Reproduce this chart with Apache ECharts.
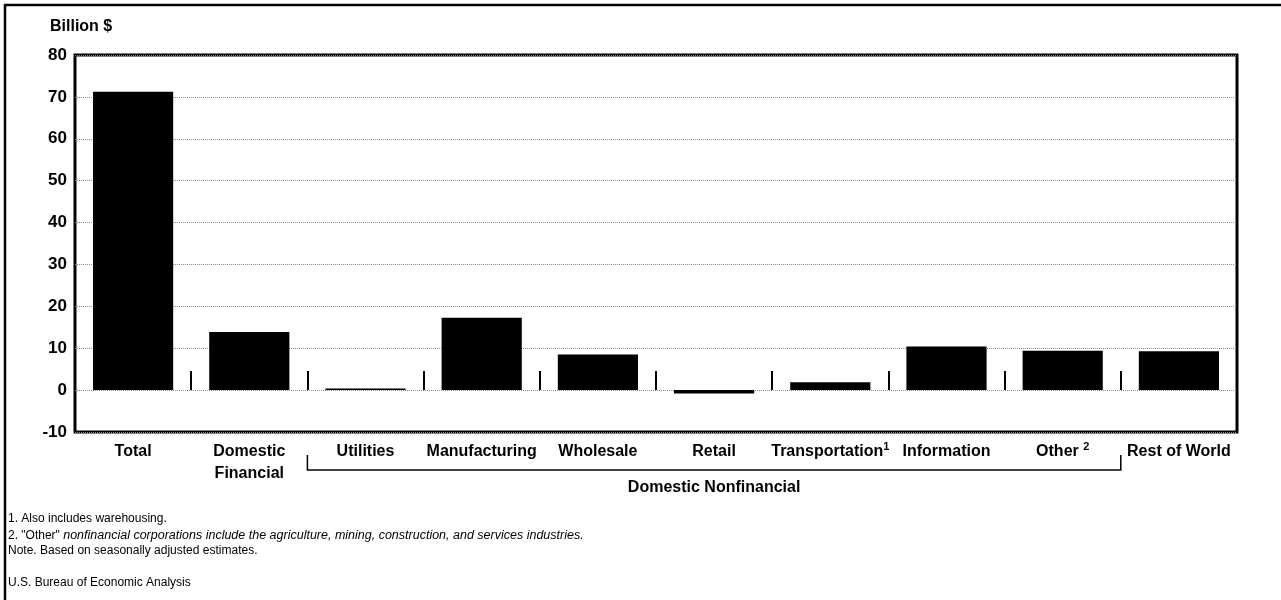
<!DOCTYPE html>
<html>
<head>
<meta charset="utf-8">
<script src="https://cdn.jsdelivr.net/npm/echarts@6/dist/echarts.min.js"></script>
<style>
  html, body { margin: 0; padding: 0; background: #fff; }
  #chart { width: 1281px; height: 600px; }
</style>
</head>
<body>
<div id="chart"></div>
<script>
// categories and values (billion $)
const categories = ['Total', 'Domestic\nFinancial', 'Utilities', 'Manufacturing', 'Wholesale',
  'Retail', 'Transportation', 'Information', 'Other', 'Rest of World'];
const values = [71.2, 13.9, 0.4, 17.3, 8.5, -0.8, 1.9, 10.4, 9.4, 9.3];
const yTicks = { min: -10, max: 80, interval: 10 };
const groupLabel = 'Domestic Nonfinancial';
const groupFrom = 2, groupTo = 8; // Utilities .. Other
const notes = [
  '1. Also includes warehousing.',
  '2. "Other" nonfinancial corporations include the agriculture, mining, construction, and services industries.',
  'Note. Based on seasonally adjusted estimates.'
];
const source = 'U.S. Bureau of Economic Analysis';

const FONT = 'Liberation Sans, Arial, sans-serif';
const chart = echarts.init(document.getElementById('chart'), null, { renderer: 'canvas' });

const fmtLabel = (v) => {
  if (v === 'Transportation') return 'Transportation{sup|1}';
  if (v === 'Other') return 'Other {sup|2}';
  return v;
};

chart.setOption({
  animation: false,
  textStyle: { fontFamily: FONT },
  grid: {
    left: 75, right: 44, top: 55, bottom: 168,
    show: true, borderColor: '#000', borderWidth: 3, backgroundColor: 'transparent'
  },
  xAxis: [{
    type: 'category',
    data: categories,
    position: 'bottom',
    axisLine: { show: false, onZero: false },
    axisTick: { show: false },
    axisLabel: {
      color: '#000', fontSize: 16, fontWeight: 'bold', margin: 9, lineHeight: 22,
      fontFamily: FONT, interval: 0,
      formatter: fmtLabel,
      rich: { sup: { fontSize: 11, fontWeight: 'bold', verticalAlign: 'top', padding: [0, 0, 7, 0], color: '#000' } }
    }
  }, {
    // tick marks between bars, standing on the zero line
    type: 'category',
    data: categories,
    position: 'bottom',
    axisLine: { show: true, onZero: true, onZeroAxisIndex: 0, lineStyle: { color: 'rgba(0,0,0,0)' } },
    axisTick: { show: true, inside: true, length: 19, lineStyle: { color: '#000', width: 2 } },
    axisLabel: { show: false }
  }],
  yAxis: {
    type: 'value',
    min: yTicks.min, max: yTicks.max, interval: yTicks.interval,
    axisLine: { show: false },
    axisTick: { show: false },
    axisLabel: { color: '#000', fontSize: 17, fontWeight: 'bold', margin: 8, fontFamily: FONT },
    splitLine: { lineStyle: { color: '#888', type: 'dotted', width: 1 } }
  },
  series: [{
    type: 'bar',
    data: values,
    xAxisIndex: 0,
    barCategoryGap: '31%',
    itemStyle: { color: '#000' }
  }]
});

// bracket under the nonfinancial industries, plus frame and notes
const half = (chart.convertToPixel({ xAxisIndex: 0 }, categories[1]) -
  chart.convertToPixel({ xAxisIndex: 0 }, categories[0])) / 2;
const bx0 = chart.convertToPixel({ xAxisIndex: 0 }, categories[groupFrom]) - half;
const bx1 = chart.convertToPixel({ xAxisIndex: 0 }, categories[groupTo]) + half;
const lineStyle = { stroke: '#000', lineWidth: 1.5 };

const graphics = [
  { type: 'polyline', shape: { points: [[bx0, 455], [bx0, 470], [bx1, 470], [bx1, 455]] }, style: Object.assign({ fill: null }, lineStyle) },
  { type: 'text', x: (bx0 + bx1) / 2, y: 480, style: { text: groupLabel, fontSize: 16, fontWeight: 'bold', fill: '#000', fontFamily: FONT, align: 'center' } },
  { type: 'text', x: 50, y: 19, style: { text: 'Billion $', fontSize: 16, fontWeight: 'bold', fill: '#000', fontFamily: FONT } },
  // outer frame (top and left only)
  { type: 'polyline', shape: { points: [[5, 600], [5, 5], [1281, 5]] }, style: { stroke: '#000', lineWidth: 2.5, fill: null } },
  { type: 'text', x: 8, y: 577, style: { text: source, fontSize: 12, fill: '#000', fontFamily: FONT } }
];
notes.forEach((t, i) => {
  let text = t, rich;
  if (i === 1) {
    text = '2. "Other" {it|nonfinancial corporations include the agriculture, mining, construction, and services industries.}';
    rich = { it: { fontStyle: 'italic', fontSize: 12.5, fontFamily: FONT, fill: '#000' } };
  }
  graphics.push({ type: 'text', x: 8, y: 513 + i * 16, style: { text, rich, fontSize: 12, fill: '#000', fontFamily: FONT } });
});
chart.setOption({ graphic: graphics });
</script>
</body>
</html>
